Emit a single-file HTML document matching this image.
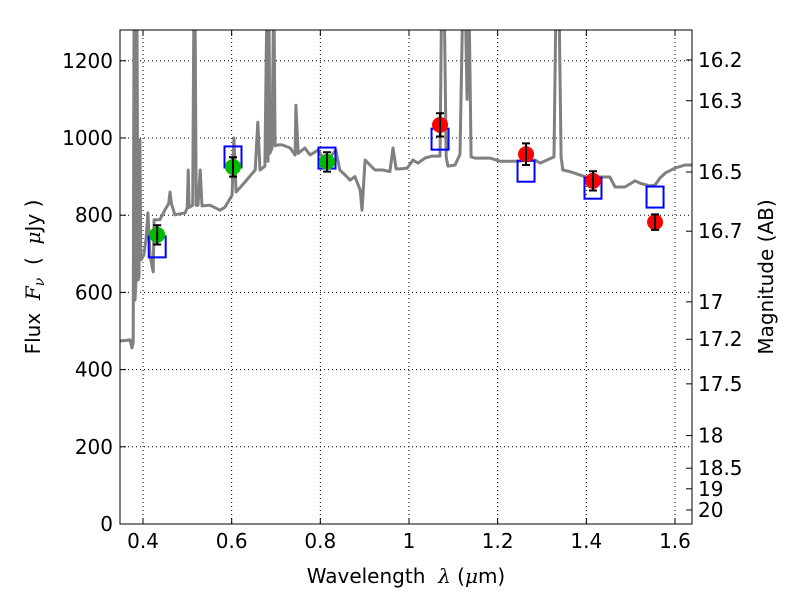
<!DOCTYPE html>
<html><head><meta charset="utf-8">
<style>
html,body{margin:0;padding:0;background:#fff;}
svg text{font-family:"DejaVu Sans","Liberation Sans",sans-serif;}
</style></head>
<body>
<svg id="chart" width="800" height="600" xmlns="http://www.w3.org/2000/svg">
<defs><clipPath id="clip"><rect x="120" y="30" width="572" height="494"/></clipPath></defs>
<g id="grid"></g>
<g id="spec" clip-path="url(#clip)"></g>
<g id="pts"></g>
<rect x="120" y="30" width="572" height="494" fill="none" stroke="#000" stroke-width="1"/>
<g id="axes"></g>
<text x="406" y="583" font-size="20" text-anchor="middle" xml:space="preserve">Wavelength  <tspan font-family="DejaVu Serif,serif" font-style="italic">λ</tspan> (<tspan font-family="DejaVu Serif,serif" font-style="italic">μ</tspan>m)</text>
<text transform="translate(40,277) rotate(-90)" font-size="20" text-anchor="middle" xml:space="preserve">Flux  <tspan font-family="DejaVu Serif,serif" font-style="italic">F<tspan font-size="14" dy="4">ν</tspan></tspan><tspan dy="-4">  (  </tspan><tspan font-family="DejaVu Serif,serif" font-style="italic">μ</tspan>Jy )</text>
<text transform="translate(773,277) rotate(-90)" font-size="20" text-anchor="middle">Magnitude (AB)</text>
</svg>
<script>
const specWave=[0.348,0.371,0.375,0.378,0.380,0.382,0.384,0.386,0.389,0.391,0.393,0.395,0.402,0.407,0.411,0.416,0.423,0.425,0.438,0.450,0.458,0.461,0.464,0.472,0.495,0.500,0.502,0.504,0.512,0.515,0.517,0.520,0.524,0.529,0.533,0.551,0.574,0.585,0.601,0.605,0.610,0.630,0.653,0.659,0.664,0.675,0.680,0.682,0.684,0.686,0.691,0.695,0.698,0.705,0.714,0.732,0.743,0.745,0.750,0.765,0.777,0.795,0.806,0.817,0.826,0.835,0.844,0.856,0.867,0.878,0.890,0.894,0.901,0.912,0.923,0.941,0.957,0.964,0.971,0.980,0.996,1.009,1.020,1.036,1.052,1.070,1.074,1.079,1.084,1.088,1.104,1.115,1.122,1.126,1.131,1.135,1.140,1.149,1.183,1.205,1.239,1.284,1.296,1.327,1.332,1.338,1.343,1.347,1.363,1.386,1.408,1.431,1.453,1.465,1.487,1.510,1.521,1.544,1.555,1.566,1.578,1.600,1.623,1.638];
const specFlux=[474,477,456,470,1400,580,627,1400,632,640,995,684,697,740,806,694,653,788,788,815,830,860,830,801,806,820,917,820,826,1400,1400,826,826,917,824,826,813,821,852,1000,860,886,917,1041,917,927,1400,940,1400,960,974,1400,980,982,982,974,956,1085,960,974,956,969,948,938,956,969,917,904,891,900,865,813,943,930,917,917,913,974,920,920,922,943,935,948,953,953,1400,1400,950,927,930,958,1400,1400,1100,1400,951,948,948,940,940,943,935,951,1400,1400,951,917,913,904,896,899,899,873,873,889,883,876,878,896,909,922,930,930];
const obsWave=[0.432,0.603,0.815,1.070,1.264,1.415,1.555];
const obsFlux=[749,925,938,1034,958,889,782];
const obsErr=[25,25,25,30,28,25,20];
const obsColor=["#00bb00","#00bb00","#00bb00","#ff0000","#ff0000","#ff0000","#ff0000"];
const modelFlux=[718,951,948,997,914,870,847];
const xTicks=[0.4,0.6,0.8,1.0,1.2,1.4,1.6];
const xTickLabels=["0.4","0.6","0.8","1","1.2","1.4","1.6"];
const yTicks=[0,200,400,600,800,1000,1200];
const magTicks=[16.2,16.3,16.5,16.7,17,17.2,17.5,18,18.5,19,20];
const magLabels=["16.2","16.3","16.5","16.7","17","17.2","17.5","18","18.5","19","20"];

const NS="http://www.w3.org/2000/svg";
const X=w=>143+(w-0.4)*443.33;
const Y=f=>524-f*0.386;
function mk(tag,attrs,parent){const e=document.createElementNS(NS,tag);for(const k in attrs)e.setAttribute(k,attrs[k]);parent.appendChild(e);return e;}
const grid=document.getElementById('grid'),axes=document.getElementById('axes'),spec=document.getElementById('spec'),pts=document.getElementById('pts');

xTicks.forEach((t,i)=>{const x=X(t);
 const g=mk('line',{x1:x,x2:x,y1:30,y2:524,stroke:'#000','stroke-dasharray':'1,3','stroke-width':1},grid);
 
 mk('line',{x1:x,x2:x,y1:524,y2:518,stroke:'#000'},axes);
 mk('line',{x1:x,x2:x,y1:30,y2:36,stroke:'#000'},axes);
 const tx=mk('text',{x:x,y:548,'font-size':20,'text-anchor':'middle'},axes);tx.textContent=xTickLabels[i];
 
});
yTicks.forEach(t=>{const y=Y(t);
 const g=mk('line',{x1:120,x2:692,y1:y,y2:y,stroke:'#000','stroke-dasharray':'1,3','stroke-width':1},grid);
 
 mk('line',{x1:120,x2:126,y1:y,y2:y,stroke:'#000'},axes);
 const tx=mk('text',{x:113,y:y+7,'font-size':20,'text-anchor':'end'},axes);tx.textContent=t;
 
});
magTicks.forEach((m,i)=>{const y=Y(Math.pow(10,(23.9-m)/2.5));
 mk('line',{x1:686,x2:692,y1:y,y2:y,stroke:'#000'},axes);
 const tx=mk('text',{x:698,y:y+7,'font-size':20},axes);tx.textContent=magLabels[i];
 
});
const d=specWave.map((w,i)=>(i?'L':'M')+X(w).toFixed(1)+' '+Y(specFlux[i]).toFixed(1)).join(' ');
const p=mk('path',{d:d,fill:'none',stroke:'#808080','stroke-width':3,'stroke-linejoin':'round'},spec);

obsWave.forEach((w,i)=>{const x=X(w);
 const b=mk('rect',{x:x-8.5,y:Y(modelFlux[i])-10.5,width:17,height:21,fill:'none',stroke:'#0000ff','stroke-width':2},pts);
 
 const c=mk('circle',{cx:x,cy:Y(obsFlux[i]),r:8,fill:obsColor[i]},pts);
 
 const y1=Y(obsFlux[i]+obsErr[i]),y2=Y(obsFlux[i]-obsErr[i]);
 const e=mk('path',{d:`M${x} ${y1}L${x} ${y2}M${x-4} ${y1}L${x+4} ${y1}M${x-4} ${y2}L${x+4} ${y2}`,stroke:'#000','stroke-width':2,fill:'none'},pts);
 
});
</script>
</body></html>
